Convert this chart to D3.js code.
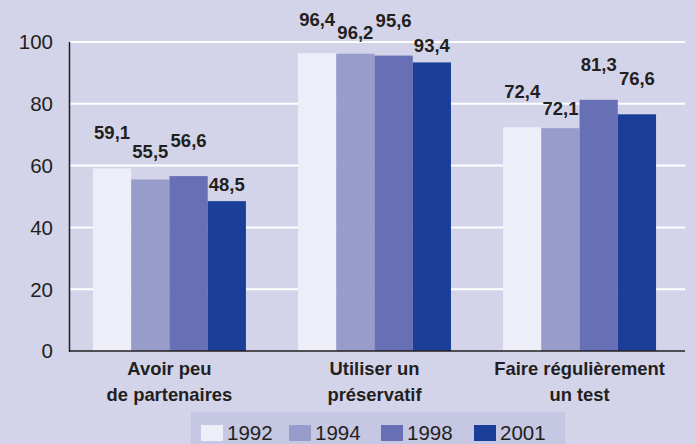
<!DOCTYPE html>
<html>
<head>
<meta charset="utf-8">
<script src="https://cdn.jsdelivr.net/npm/d3@7"></script>
<style>
  html, body { margin: 0; padding: 0; background: #d3d4ea; }
  svg { display: block; }
  text { font-family: "Liberation Sans", Arial, sans-serif; fill: #231f20; }
</style>
</head>
<body>
<svg id="chart" width="696" height="444"></svg>
<script>
const categories = [["Avoir peu", "de partenaires"], ["Utiliser un", "préservatif"], ["Faire régulièrement", "un test"]];
const years = ["1992", "1994", "1998", "2001"];
const values1992 = [59.1, 96.4, 72.4];
const values1994 = [55.5, 96.2, 72.1];
const values1998 = [56.6, 95.6, 81.3];
const values2001 = [48.5, 93.4, 76.6];
const yTicks = [0, 20, 40, 60, 80, 100];
const colors = ["#eeeef8", "#989ccb", "#6770b4", "#1b3f99"];
// vertical gap (px) between label baseline and bar top, per category/year
const labelGap = [[29, 22, 29, 10], [27, 15, 29, 10], [29, 13, 29, 29]];

const series = [values1992, values1994, values1998, values2001];
const svg = d3.select("#chart");

const y = d3.scaleLinear().domain([0, 100]).range([351, 42]);
const x0 = d3.scaleBand().domain(d3.range(categories.length)).range([70, 679])
  .paddingInner(0.254).paddingOuter(0.112);
const x1 = d3.scaleBand().domain(years).range([0, x0.bandwidth()]);

// gridlines
svg.append("g").selectAll("line").data(yTicks.filter(d => d > 0)).join("line")
  .attr("x1", 70).attr("x2", 685)
  .attr("y1", d => y(d)).attr("y2", d => y(d))
  .attr("stroke", "#ffffff").attr("stroke-width", 2);

// bars
const groups = svg.append("g").selectAll("g").data(categories).join("g")
  .attr("transform", (d, i) => `translate(${x0(i)},0)`);
groups.each(function(c, i) {
  const g = d3.select(this);
  years.forEach((yr, j) => {
    const v = series[j][i];
    g.append("rect")
      .attr("x", x1(yr)).attr("width", x1.bandwidth())
      .attr("y", y(v)).attr("height", y(0) - y(v))
      .attr("fill", colors[j]);
    g.append("text")
      .attr("x", x1(yr) + x1.bandwidth() / 2)
      .attr("y", y(v) - labelGap[i][j])
      .attr("text-anchor", "middle")
      .attr("font-size", 18.5).attr("font-weight", "bold")
      .text(d3.format(".1f")(v).replace(".", ","));
  });
  g.selectAll("text.cat").data(c).join("text").attr("class", "cat")
    .attr("x", x0.bandwidth() / 2)
    .attr("y", (d, k) => 375 + k * 26)
    .attr("text-anchor", "middle")
    .attr("font-size", 18.4).attr("font-weight", "bold")
    .text(d => d);
});

// axes
svg.append("line").attr("x1", 69.5).attr("x2", 69.5).attr("y1", y(100)).attr("y2", y(0) + 1)
  .attr("stroke", "#231f20").attr("stroke-width", 1.5);
svg.append("line").attr("x1", 69).attr("x2", 685).attr("y1", y(0)).attr("y2", y(0))
  .attr("stroke", "#231f20").attr("stroke-width", 1.5);

svg.append("g").selectAll("text").data(yTicks).join("text")
  .attr("x", 53).attr("y", d => y(d)).attr("dy", "0.36em")
  .attr("text-anchor", "end").attr("font-size", 20.5)
  .text(d => d);

// legend
svg.append("rect").attr("x", 191).attr("y", 412).attr("width", 374).attr("height", 32)
  .attr("fill", "#c6c7e3");
const legX = [201, 289, 381, 474];
const leg = svg.append("g").selectAll("g").data(years).join("g")
  .attr("transform", (d, i) => `translate(${legX[i]},425)`);
leg.append("rect").attr("width", 22).attr("height", 16).attr("fill", (d, i) => colors[i]);
leg.append("text").attr("x", 26).attr("y", 14.5).attr("font-size", 20.5).text(d => d);
</script>
</body>
</html>
